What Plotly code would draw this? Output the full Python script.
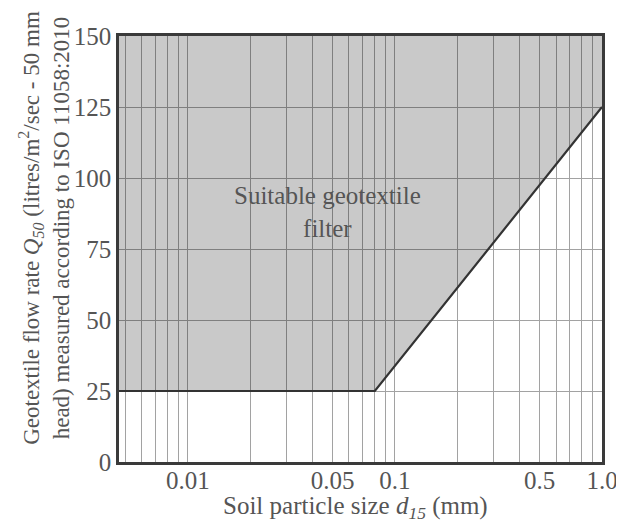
import math
import plotly.graph_objects as go

# Data
x_min = 0.00465
x_max = 1.0
boundary_x = [x_min, 0.08, 1.0]
boundary_y = [25, 25, 125]
y_top = 150
grid_x = [0.005, 0.006, 0.007, 0.008, 0.009,
          0.01, 0.02, 0.03, 0.04, 0.05, 0.06, 0.07, 0.08, 0.09,
          0.1, 0.2, 0.3, 0.4, 0.5, 0.6, 0.7, 0.8, 0.9, 1.0]
x_labels = {0.01: "0.01", 0.05: "0.05", 0.1: "0.1", 0.5: "0.5", 1.0: "1.0"}
y_ticks = [0, 25, 50, 75, 100, 125, 150]
label_x = 0.0474
label_y = 88

FONT = "Liberation Serif"
TXT = "#555555"

fig = go.Figure()

# filled region (suitable)
fill_x = boundary_x + [boundary_x[-1], boundary_x[0], boundary_x[0]]
fill_y = boundary_y + [y_top, y_top, boundary_y[0]]
fig.add_trace(go.Scatter(x=fill_x, y=fill_y, mode="lines", fill="toself",
                         fillcolor="rgba(0,0,0,0.21)", line=dict(width=0),
                         hoverinfo="skip", showlegend=False))
fig.add_trace(go.Scatter(x=boundary_x, y=boundary_y, mode="lines",
                         line=dict(color="#333333", width=2.2),
                         showlegend=False))

fig.add_annotation(x=math.log10(label_x), y=label_y, xref="x", yref="y",
                   xanchor="center", yanchor="middle",
                   text="Suitable geotextile<br>filter", showarrow=False,
                   font=dict(family=FONT, size=25, color=TXT), align="center")

# y-axis title (two lines, rotated)
fig.add_annotation(x=-0.153, y=0.55, xref="paper", yref="paper",
                   xanchor="center", yanchor="middle", textangle=-90,
                   text="Geotextile flow rate <i>Q</i><sub><i>50</i></sub> (litres/m<sup>2</sup>/sec - 50 mm<br>head) measured according to ISO 11058:2010",
                   showarrow=False, align="center",
                   font=dict(family=FONT, size=23, color=TXT))

# x-axis title
fig.add_annotation(x=0.489, y=-0.106, xref="paper", yref="paper",
                   xanchor="center", yanchor="middle",
                   text="Soil particle size <i>d</i><sub><i>15</i></sub> (mm)",
                   showarrow=False, font=dict(family=FONT, size=25, color=TXT))

fig.update_layout(
    width=616, height=514,
    margin=dict(l=111, r=22, t=28, b=60),
    paper_bgcolor="white", plot_bgcolor="white",
    font=dict(family=FONT, size=23, color=TXT),
    xaxis=dict(type="log", range=[math.log10(x_min), math.log10(x_max)],
               tickvals=grid_x,
               ticktext=[x_labels.get(v, "") for v in grid_x],
               showgrid=True, gridcolor="#a2a2a2", gridwidth=1.2,
               showline=True, linecolor="#3a3a3a", linewidth=2.5, mirror=True,
               ticks="", zeroline=False, automargin=False,
               ticklabelstandoff=-6,
               tickfont=dict(family=FONT, size=25, color=TXT)),
    yaxis=dict(range=[0, 150], tickvals=y_ticks,
               showgrid=True, gridcolor="#a2a2a2", gridwidth=1.2,
               showline=True, linecolor="#3a3a3a", linewidth=2.5, mirror=True,
               ticks="", zeroline=False, automargin=False,
               tickfont=dict(family=FONT, size=25, color=TXT)),
)

fig.write_html("out.html")
